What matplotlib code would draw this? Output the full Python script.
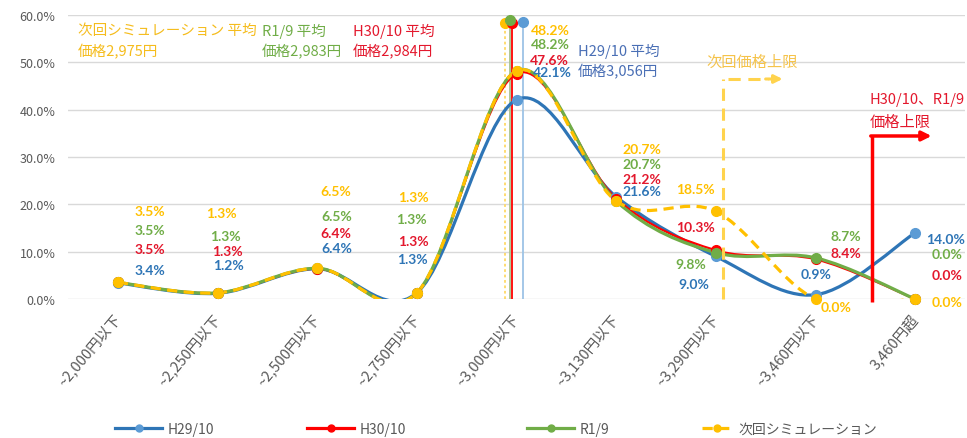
import matplotlib
matplotlib.use('Agg')
import matplotlib.pyplot as plt
from matplotlib.path import Path
from matplotlib.patches import PathPatch
from matplotlib.lines import Line2D
import numpy as np

plt.rcParams['font.family'] = ['Noto Sans CJK JP', 'DejaVu Sans']

# ---------------- data ----------------
categories = ['~2,000円以下', '~2,250円以下', '~2,500円以下', '~2,750円以下', '~3,000円以下',
              '~3,130円以下', '~3,290円以下', '~3,460円以下', '3,460円超']
series_names = ['H29/10', 'H30/10', 'R1/9', '次回シミュレーション']
h29 = [3.4, 1.2, 6.4, 1.3, 42.1, 21.6, 9.0, 0.9, 14.0]
h30 = [3.5, 1.3, 6.4, 1.3, 47.6, 21.2, 10.3, 8.4, 0.0]
r19 = [3.5, 1.3, 6.5, 1.3, 48.2, 20.7, 9.8, 8.7, 0.0]
sim = [3.5, 1.3, 6.5, 1.3, 48.2, 20.7, 18.5, 0.0, 0.0]
avg_price = ['3,056', '2,984', '2,983', '2,975']
# average markers (category-axis position, height %)
avg_pos = [4.07, 3.95, 3.93, 3.88]
avg_top = [58.6, 58.3, 59.0, 58.3]
yticks = [0, 10, 20, 30, 40, 50, 60]

# ---------------- styles ----------------
line_col = ['#2E75B6', '#FF0000', '#70AD47', '#FFC000']
mark_col = ['#5B9BD5', '#FF0000', '#70AD47', '#FFC000']
lab_col = ['#2E75B6', '#E3182D', '#70AD47', '#FFC000']
ann_col = ['#4A6FB5', '#E3182D', '#70AD47', '#F5BC1C']
avg_line_col = ['#9DC3E6', '#FF0000', '#A9C08A', '#FFD966']
# data label positions: (dx in categories, y in %)
lab_pos = [
    [(0.32, 6.1), (0.11, 7.2), (0.20, 10.8), (-0.04, 8.5), (0.36, 48.0), (0.26, 22.8), (-0.22, 3.2), (0.01, 5.3), (0.30, 12.7)],
    [(0.32, 10.6), (0.10, 10.1), (0.19, 13.9), (-0.03, 12.3), (0.33, 50.5), (0.26, 25.4), (-0.20, 15.2), (0.30, 9.7), (0.32, 5.1)],
    [(0.32, 14.6), (0.08, 13.3), (0.20, 17.5), (-0.05, 16.9), (0.34, 53.9), (0.26, 28.5), (-0.25, 7.4), (0.30, 13.3), (0.32, 9.5)],
    [(0.32, 18.6), (0.04, 18.2), (0.19, 22.8), (-0.03, 21.6), (0.34, 56.8), (0.26, 31.7), (-0.20, 23.2), (0.21, -1.7), (0.32, -0.6)],
]


def smooth_path(xs, ys):
    pts = np.column_stack([xs, ys]).astype(float)
    n = len(pts)
    verts = [pts[0]]
    codes = [Path.MOVETO]
    for i in range(n - 1):
        p0 = pts[i - 1] if i > 0 else pts[i]
        p1 = pts[i]
        p2 = pts[i + 1]
        p3 = pts[i + 2] if i + 2 < n else pts[i + 1]
        c1 = p1 + (p2 - p0) / 6.0
        c2 = p2 - (p3 - p1) / 6.0
        verts += [c1, c2, p2]
        codes += [Path.CURVE4] * 3
    return Path(verts, codes)


fig = plt.figure(figsize=(9.67, 4.39), dpi=100)
W, H = 967, 439
ax = fig.add_axes([68 / W, (H - 300) / H, (965 - 68) / W, (300 - 16) / H])
x = np.arange(len(categories))
ax.set_xlim(-0.5, len(categories) - 0.5)
ax.set_ylim(0, 60)
for s in ax.spines.values():
    s.set_visible(False)
ax.set_yticks(yticks)
ax.set_yticklabels([f'{v:.1f}%' for v in yticks], fontsize=9, color='#595959')
ax.yaxis.grid(True, color='#D9D9D9', lw=1)
ax.set_axisbelow(True)
ax.tick_params(axis='y', length=0, pad=9)
ax.tick_params(axis='x', length=0, pad=12)
ax.set_xticks(x)
ax.set_xticklabels(categories, rotation=50, ha='right', va='center',
                   rotation_mode='anchor', fontsize=10.5, color='#595959')

# average vertical lines
avg_styles = ['-', '-', '-', (0, (1.5, 1.5))]
for k in range(4):
    ax.plot([avg_pos[k], avg_pos[k]], [0, avg_top[k]], color=avg_line_col[k],
            lw=1.3, ls=avg_styles[k], zorder=2, solid_capstyle='butt')
for k in [0, 3, 1, 2]:
    ax.plot([avg_pos[k]], [avg_top[k]], 'o', ms=7, color=mark_col[k], zorder=6, clip_on=False)

# series curves
all_series = [h29, h30, r19, sim]
lws = [2.3, 1.6, 2.3, 2.3]
lss = ['-', '-', '-', (0, (3.2, 2.0))]
for k, ys in enumerate(all_series):
    patch = PathPatch(smooth_path(x, ys), fill=False, edgecolor=line_col[k], lw=lws[k],
                      ls=lss[k], zorder=3 + k * 0.1, capstyle='butt')
    ax.add_patch(patch)
for k, ys in enumerate(all_series):
    ax.plot(x, ys, 'o', ms=7, color=mark_col[k], zorder=5 + k * 0.1, clip_on=False)

# data labels
for k, ys in enumerate(all_series):
    for i, v in enumerate(ys):
        dx, ly = lab_pos[k][i]
        ax.text(i + dx, ly, f'{v:.1f}%', color=lab_col[k], fontsize=10,
                fontweight='bold', family=['Lato', 'DejaVu Sans'], ha='center', va='center', zorder=8)


def px2data(px, py):
    return (px - 118) / 99.7, (300 - py) / 4.733


# average annotations
ann = [
    (series_names[3] + ' 平均', '価格' + avg_price[3] + '円', ann_col[3], 78, 31, 52),
    (series_names[2] + ' 平均', '価格' + avg_price[2] + '円', ann_col[2], 262, 31, 52),
    (series_names[1] + ' 平均', '価格' + avg_price[1] + '円', ann_col[1], 353, 31, 52),
    (series_names[0] + ' 平均', '価格' + avg_price[0] + '円', ann_col[0], 578, 51, 72),
]
for t1, t2, c, px, py1, py2 in ann:
    xa, ya = px2data(px, py1)
    ax.text(xa, ya, t1, color=c, fontsize=10.5, ha='left', va='center', zorder=8)
    xa, ya = px2data(px, py2)
    ax.text(xa, ya, t2, color=c, fontsize=10.5, ha='left', va='center', zorder=8)

# upper limit markers
ycol = '#FFD34D'
xv, yt = px2data(723, 80)
xe, _ = px2data(783, 80)
xm, _ = px2data(768, 80)
ax.plot([xv, xv], [0, yt], color=ycol, lw=2.2, ls=(0, (4, 2.5)), zorder=4, clip_on=False)
ax.plot([xv + 0.05, xm], [yt, yt], color=ycol, lw=2.2, ls=(0, (4, 2.5)), zorder=4)
ax.annotate('', xy=(xe, yt), xytext=(xm - 0.02, yt),
            arrowprops=dict(arrowstyle='-|>', color=ycol, lw=2.2, mutation_scale=12,
                            shrinkA=0, shrinkB=0), zorder=4)
xa, ya = px2data(707, 62)
ax.text(xa, ya, '次回価格上限', color='#F5C34A', fontsize=11, ha='left', va='center')

rv, rt = px2data(872, 137)
re_, _ = px2data(932, 137)
ax.plot([rv, rv], [-0.6, rt], color='#FF0000', lw=2.5, zorder=4, clip_on=False,
        solid_capstyle='butt')
ax.annotate('', xy=(re_, rt), xytext=(rv - 0.008, rt),
            arrowprops=dict(arrowstyle='-|>', color='#FF0000', lw=2.5, mutation_scale=14,
                            shrinkA=0, shrinkB=0), zorder=4)
xa, ya = px2data(870, 100)
ax.text(xa, ya, 'H30/10、R1/9', color='#E3182D', fontsize=10.5, ha='left', va='center')
xa, ya = px2data(870, 122)
ax.text(xa, ya, '価格上限', color='#E3182D', fontsize=11, ha='left', va='center')

# legend (one entry each, positioned like the reference)
leg_x = [115, 307, 527, 702]
for k in range(4):
    h = Line2D([], [], color=line_col[k], lw=lws[k] if k != 1 else 2.3, ls=lss[k],
               marker='o', ms=5, markerfacecolor=mark_col[k], markeredgecolor=mark_col[k])
    fig.legend(handles=[h], labels=[series_names[k]], loc='center left',
               bbox_to_anchor=(leg_x[k] / W, 1 - 430 / H), frameon=False,
               borderaxespad=0, borderpad=0, handlelength=3.4 if k != 3 else 2.2,
               handletextpad=0.4, prop={'size': 10}, labelcolor='#595959')

fig.savefig('out.png', dpi=100)
